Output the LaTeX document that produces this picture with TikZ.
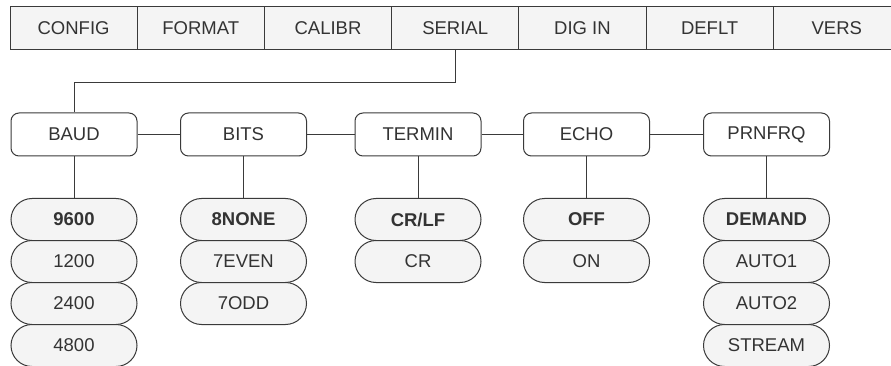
\documentclass[tikz,border=0pt]{standalone}
\usepackage{fontspec}
\setmainfont{Liberation Sans}
\usetikzlibrary{shapes.misc}
\definecolor{cfill}{HTML}{F4F4F4}
\definecolor{cline}{HTML}{3A3A3A}
\definecolor{ctext}{HTML}{333333}
\tikzset{
  topcell/.style={draw=cline, line width=1pt, fill=cfill, minimum width=127.2pt, minimum height=43pt, inner sep=0pt, text=ctext, font=\fontsize{18.5}{22}\selectfont},
  menubox/.style={draw=cline, line width=1pt, fill=white, rounded corners=8pt, minimum width=126pt, minimum height=43pt, inner sep=0pt, text=ctext, font=\fontsize{18.5}{22}\selectfont},
  pill/.style={draw=cline, line width=1pt, fill=cfill, rounded rectangle, rounded rectangle arc length=180, minimum width=126pt, minimum height=42pt, inner sep=0pt, text=ctext, font=\fontsize{18.5}{22}\selectfont},
  defpill/.style={pill, font=\fontsize{18.5}{22}\selectfont\bfseries},
  conn/.style={draw=cline, line width=1pt}
}
\begin{document}
\begin{tikzpicture}[x=1pt,y=-1pt]
\useasboundingbox (0,0) rectangle (891,366);
\clip (0,0) rectangle (891,366);
% top menu
\node[topcell] (config) at (73.6,28.5) {CONFIG};
\node[topcell] (format) at (200.8,28.5) {FORMAT};
\node[topcell] (calibr) at (328.0,28.5) {CALIBR};
\node[topcell] (serial) at (455.2,28.5) {SERIAL};
\node[topcell] (digin) at (582.4,28.5) {DIG IN};
\node[topcell] (deflt) at (709.6,28.5) {DEFLT};
\node[topcell] (vers) at (836.8,28.5) {VERS};
% second row
\node[menubox] (baud) at (74,134.5) {BAUD};
\node[menubox] (bits) at (243.5,134.5) {BITS};
\node[menubox] (termin) at (418,134.5) {TERMIN};
\node[menubox] (echo) at (586.5,134.5) {ECHO};
\node[menubox] (prnfrq) at (766.5,134.5) {PRNFRQ};
% connectors
\draw[conn] (serial.south) -- ++(0,32) -| (baud.north);
\draw[conn] (baud.east) -- (bits.west);
\draw[conn] (bits.east) -- (termin.west);
\draw[conn] (termin.east) -- (echo.west);
\draw[conn] (echo.east) -- (prnfrq.west);
% BAUD values
\node[defpill] (b9600) at (74,219.5) {9600};
\node[pill] (b1200) at (74,261.5) {1200};
\node[pill] (b2400) at (74,303.5) {2400};
\node[pill] (b4800) at (74,345.5) {4800};
% BITS values
\node[defpill] (b8none) at (243.5,219.5) {8NONE};
\node[pill] (b7even) at (243.5,261.5) {7EVEN};
\node[pill] (b7odd) at (243.5,303.5) {7ODD};
% TERMIN values
\node[defpill] (crlf) at (418,219.5) {CR/LF};
\node[pill] (cr) at (418,261.5) {CR};
% ECHO values
\node[defpill] (off) at (586.5,219.5) {OFF};
\node[pill] (on) at (586.5,261.5) {ON};
% PRNFRQ values
\node[defpill] (demand) at (766.5,219.5) {DEMAND};
\node[pill] (auto1) at (766.5,261.5) {AUTO1};
\node[pill] (auto2) at (766.5,303.5) {AUTO2};
\node[pill] (stream) at (766.5,345.5) {STREAM};
% vertical links
\draw[conn] (baud.south) -- (b9600.north);
\draw[conn] (bits.south) -- (b8none.north);
\draw[conn] (termin.south) -- (crlf.north);
\draw[conn] (echo.south) -- (off.north);
\draw[conn] (prnfrq.south) -- (demand.north);
\end{tikzpicture}
\end{document}
